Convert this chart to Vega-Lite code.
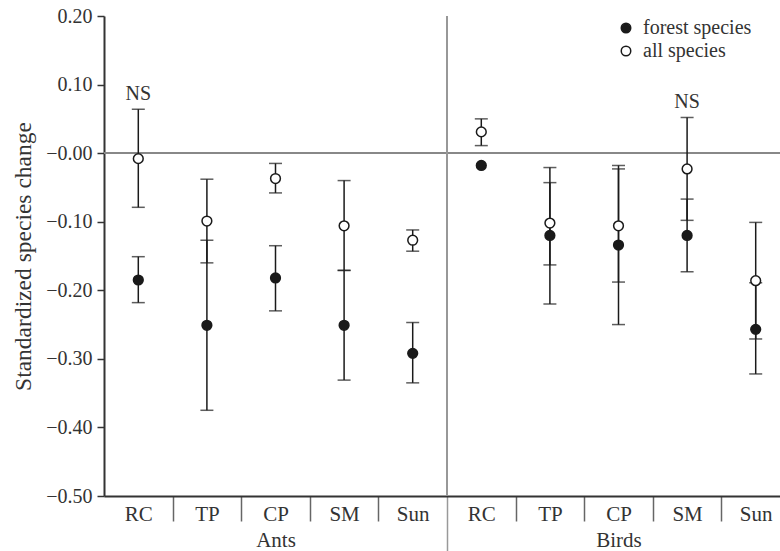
{
  "$schema": "https://vega.github.io/schema/vega-lite/v6.json",
  "autosize": {"type": "none"},
  "padding": {"left": 104, "top": 16, "right": 0, "bottom": 55},
  "width": 676,
  "height": 480,
  "background": "white",
  "config": {
    "view": {"stroke": null},
    "font": "Liberation Serif",
    "axis": {"grid": false, "labelFont": "Liberation Serif", "titleFont": "Liberation Serif", "labelColor": "#333", "titleColor": "#333", "titleFontWeight": "normal"},
    "legend": {"labelFont": "Liberation Serif", "labelColor": "#333"}
  },
  "data": {
    "values": [
      {"group": "Ants", "cat": "RC", "key": "Ants|RC", "series": "forest species", "value": -0.185, "lo": -0.218, "hi": -0.151, "note": null},
      {"group": "Ants", "cat": "RC", "key": "Ants|RC", "series": "all species", "value": -0.008, "lo": -0.079, "hi": 0.064, "note": "NS"},
      {"group": "Ants", "cat": "TP", "key": "Ants|TP", "series": "forest species", "value": -0.251, "lo": -0.375, "hi": -0.127, "note": null},
      {"group": "Ants", "cat": "TP", "key": "Ants|TP", "series": "all species", "value": -0.099, "lo": -0.160, "hi": -0.038, "note": null},
      {"group": "Ants", "cat": "CP", "key": "Ants|CP", "series": "forest species", "value": -0.182, "lo": -0.230, "hi": -0.135, "note": null},
      {"group": "Ants", "cat": "CP", "key": "Ants|CP", "series": "all species", "value": -0.037, "lo": -0.058, "hi": -0.015, "note": null},
      {"group": "Ants", "cat": "SM", "key": "Ants|SM", "series": "forest species", "value": -0.251, "lo": -0.331, "hi": -0.171, "note": null},
      {"group": "Ants", "cat": "SM", "key": "Ants|SM", "series": "all species", "value": -0.106, "lo": -0.171, "hi": -0.040, "note": null},
      {"group": "Ants", "cat": "Sun", "key": "Ants|Sun", "series": "forest species", "value": -0.292, "lo": -0.335, "hi": -0.247, "note": null},
      {"group": "Ants", "cat": "Sun", "key": "Ants|Sun", "series": "all species", "value": -0.127, "lo": -0.143, "hi": -0.112, "note": null},
      {"group": "Birds", "cat": "RC", "key": "Birds|RC", "series": "forest species", "value": -0.018, "lo": null, "hi": null, "note": null},
      {"group": "Birds", "cat": "RC", "key": "Birds|RC", "series": "all species", "value": 0.031, "lo": 0.011, "hi": 0.050, "note": null},
      {"group": "Birds", "cat": "TP", "key": "Birds|TP", "series": "forest species", "value": -0.120, "lo": -0.220, "hi": -0.021, "note": null},
      {"group": "Birds", "cat": "TP", "key": "Birds|TP", "series": "all species", "value": -0.102, "lo": -0.163, "hi": -0.043, "note": null},
      {"group": "Birds", "cat": "CP", "key": "Birds|CP", "series": "forest species", "value": -0.134, "lo": -0.250, "hi": -0.018, "note": null},
      {"group": "Birds", "cat": "CP", "key": "Birds|CP", "series": "all species", "value": -0.106, "lo": -0.188, "hi": -0.023, "note": null},
      {"group": "Birds", "cat": "SM", "key": "Birds|SM", "series": "forest species", "value": -0.120, "lo": -0.173, "hi": -0.067, "note": null},
      {"group": "Birds", "cat": "SM", "key": "Birds|SM", "series": "all species", "value": -0.023, "lo": -0.098, "hi": 0.052, "note": "NS"},
      {"group": "Birds", "cat": "Sun", "key": "Birds|Sun", "series": "forest species", "value": -0.257, "lo": -0.322, "hi": -0.189, "note": null},
      {"group": "Birds", "cat": "Sun", "key": "Birds|Sun", "series": "all species", "value": -0.186, "lo": -0.271, "hi": -0.101, "note": null}
    ]
  },
  "encoding": {
    "x": {
      "field": "key",
      "type": "nominal",
      "sort": ["Ants|RC", "Ants|TP", "Ants|CP", "Ants|SM", "Ants|Sun", "Birds|RC", "Birds|TP", "Birds|CP", "Birds|SM", "Birds|Sun"],
      "scale": {"range": [0, 686], "paddingInner": 0, "paddingOuter": 0},
      "axis": {
        "title": null,
        "labelAngle": 0,
        "tickBand": "extent",
        "tickSize": {"condition": [{"test": "datum.index < 0", "value": 0}, {"test": "datum.value === 'Ants|Sun'", "value": 60}], "value": 25},
        "tickColor": {"condition": {"test": "datum.value === 'Ants|Sun'", "value": "#999"}, "value": "#666"},
        "tickWidth": 1.5,
        "domainColor": "#333",
        "domainWidth": 2,
        "labelFontSize": 21,
        "labelLineHeight": 26,
        "labelPadding": {"condition": {"test": "datum.value === 'Ants|Sun'", "value": -53}, "value": -18},
        "labelExpr": "split(datum.value, '|')[1] === 'CP' ? [split(datum.value, '|')[1], split(datum.value, '|')[0]] : split(datum.value, '|')[1]"
      }
    }
  },
  "layer": [
    {
      "mark": {"type": "rule", "color": "#888", "strokeWidth": 1.5},
      "encoding": {"x": null, "y": {"datum": 0, "type": "quantitative"}}
    },
    {
      "mark": {"type": "rule", "color": "#999", "strokeWidth": 1.5},
      "encoding": {"x": {"datum": "Birds|RC", "type": "nominal", "bandPosition": 0}}
    },
    {
      "mark": {"type": "rule", "color": "#1a1a1a", "strokeWidth": 1.5},
      "encoding": {
        "y": {"field": "lo", "type": "quantitative"},
        "y2": {"field": "hi"}
      }
    },
    {
      "mark": {"type": "tick", "color": "#1a1a1a", "size": 13, "thickness": 1.5},
      "encoding": {"y": {"field": "lo", "type": "quantitative"}}
    },
    {
      "mark": {"type": "tick", "color": "#1a1a1a", "size": 13, "thickness": 1.5},
      "encoding": {"y": {"field": "hi", "type": "quantitative"}}
    },
    {
      "mark": {"type": "circle", "stroke": "#1a1a1a", "strokeWidth": 1.5, "opacity": 1, "size": 95},
      "encoding": {
        "y": {
          "field": "value",
          "type": "quantitative",
          "scale": {"domain": [-0.5, 0.2], "nice": false, "zero": false},
          "axis": {
            "title": "Standardized species change",
            "titleFontSize": 23.5,
            "titlePadding": 10,
            "values": [-0.5, -0.4, -0.3, -0.2, -0.1, 0, 0.1, 0.2],
            "labelExpr": "datum.value > 0.001 ? format(datum.value, '.2f') : '\u2212' + format(abs(datum.value), '.2f')",
            "labelFontSize": 20,
            "labelPadding": 5,
            "tickSize": 7,
            "tickColor": "#333",
            "tickWidth": 1.5,
            "domainColor": "#333",
            "domainWidth": 2
          }
        },
        "fill": {
          "field": "series",
          "type": "nominal",
          "scale": {"domain": ["forest species", "all species"], "range": ["#1a1a1a", "white"]},
          "legend": {
            "title": null,
            "orient": "none",
            "legendX": 512,
            "legendY": 2,
            "symbolType": "circle",
            "symbolSize": 90,
            "symbolStrokeColor": "#1a1a1a",
            "symbolStrokeWidth": 1.5,
            "labelFontSize": 20,
            "labelOffset": 7,
            "rowPadding": 3
          }
        }
      }
    },
    {
      "transform": [{"filter": "datum.note != null"}],
      "mark": {"type": "text", "fontSize": 20, "dy": -9, "baseline": "alphabetic", "color": "#333", "font": "Liberation Serif"},
      "encoding": {
        "y": {"field": "hi", "type": "quantitative"},
        "text": {"field": "note"}
      }
    }
  ]
}
